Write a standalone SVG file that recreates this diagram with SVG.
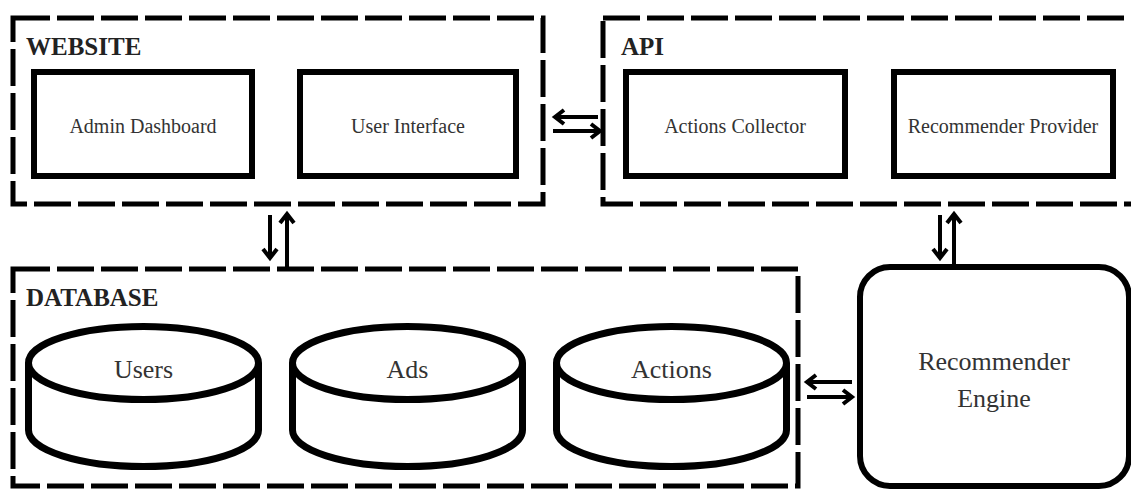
<svg xmlns="http://www.w3.org/2000/svg" width="1131" height="489" viewBox="0 0 1131 489">
  <style>
    .group { fill: none; stroke: #000; stroke-width: 5; stroke-dasharray: 37 7; }
    .box { fill: #fff; stroke: #000; stroke-width: 6; }
    .cyl { fill: #fff; stroke: #000; stroke-width: 7; }
    text { font-family: 'Liberation Serif', 'DejaVu Serif', serif; }
    .title { font-weight: bold; font-size: 25px; fill: #222; }
    .label { font-size: 20px; fill: #333; text-anchor: middle; }
    .big { font-size: 26px; fill: #333; text-anchor: middle; }
    .arrow { fill: none; stroke: #000; stroke-width: 4; marker-end: url(#head); }
  </style>
  <defs>
    <marker id="head" markerUnits="userSpaceOnUse" markerWidth="16" markerHeight="20" viewBox="0 0 16 20" refX="12" refY="10" orient="auto">
      <path d="M3,3 L12,10 L3,17" fill="none" stroke="#000" stroke-width="4"/>
    </marker>
  </defs>

  <rect width="1131" height="489" fill="#fff"/>

  <!-- Website group -->
  <g id="website">
    <rect class="group" x="13" y="18" width="530" height="186"/>
    <text class="title" x="26" y="55" font-family="Liberation Serif, serif">WEBSITE</text>
    <g id="admin-dashboard">
      <rect class="box" x="34" y="72" width="218" height="104"/>
      <text class="label" x="143" y="133">Admin Dashboard</text>
    </g>
    <g id="user-interface">
      <rect class="box" x="300" y="72" width="216" height="104"/>
      <text class="label" x="408" y="133">User Interface</text>
    </g>
  </g>

  <!-- API group (runs past the right edge) -->
  <g id="api">
    <rect class="group" x="603" y="18" width="560" height="186"/>
    <text class="title" x="621" y="55">API</text>
    <g id="actions-collector">
      <rect class="box" x="626" y="72" width="219" height="104"/>
      <text class="label" x="735" y="133">Actions Collector</text>
    </g>
    <g id="recommender-provider">
      <rect class="box" x="894" y="72" width="219" height="104"/>
      <text class="label" x="1003" y="133">Recommender Provider</text>
    </g>
  </g>

  <!-- Database group -->
  <g id="database">
    <rect class="group" x="13" y="269" width="785" height="217"/>
    <text class="title" x="26" y="306">DATABASE</text>
    <g id="users">
      <path class="cyl" d="M28.5,363 V430 A115,36.5 0 0 0 258.5,430 V363"/>
      <ellipse class="cyl" cx="143.5" cy="363" rx="115" ry="36.5"/>
      <text class="big" x="143.5" y="378">Users</text>
    </g>
    <g id="ads">
      <path class="cyl" d="M292.5,363 V430 A115,36.5 0 0 0 522.5,430 V363"/>
      <ellipse class="cyl" cx="407.5" cy="363" rx="115" ry="36.5"/>
      <text class="big" x="407.5" y="378">Ads</text>
    </g>
    <g id="actions">
      <path class="cyl" d="M556.5,363 V430 A115,36.5 0 0 0 786.5,430 V363"/>
      <ellipse class="cyl" cx="671.5" cy="363" rx="115" ry="36.5"/>
      <text class="big" x="671.5" y="378">Actions</text>
    </g>
  </g>

  <!-- Recommender engine -->
  <g id="recommender-engine">
    <rect class="box" x="860" y="267" width="269" height="219" rx="30" ry="30"/>
    <text class="big" x="994" y="370">Recommender</text>
    <text class="big" x="994" y="407">Engine</text>
  </g>

  <!-- Connectors: paired arrows for two-way traffic -->
  <g id="connectors">
    <path class="arrow" d="M598,117 H555"/>
    <path class="arrow" d="M553,131 H600"/>
    <path class="arrow" d="M270,215 V258"/>
    <path class="arrow" d="M287,267 V214"/>
    <path class="arrow" d="M940,215 V258"/>
    <path class="arrow" d="M954,267 V214"/>
    <path class="arrow" d="M852,382 H807"/>
    <path class="arrow" d="M807,397 H852"/>
  </g>
</svg>
